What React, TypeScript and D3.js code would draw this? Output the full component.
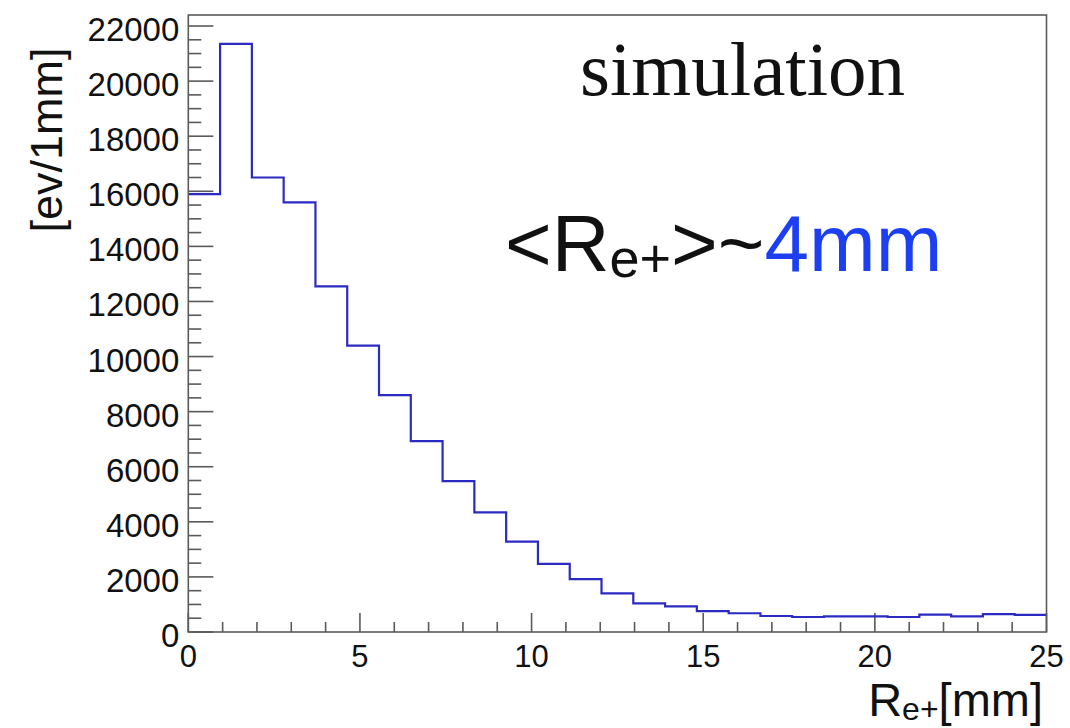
import React from 'react'
import * as d3 from 'd3'

// counts per bin, 27 bins over 0..25 mm
const counts = [
  15900, 21350, 16500, 15600, 12550, 10400, 8600, 6930, 5480, 4340, 3280, 2470,
  1920, 1400, 1040, 930, 760, 680, 580, 545, 570, 570, 545, 630, 570, 650, 620,
]
const xRange = [0, 25]
const xMajor = [0, 5, 10, 15, 20, 25]
const yMajor = [0, 2000, 4000, 6000, 8000, 10000, 12000, 14000, 16000, 18000, 20000, 22000]

const W = 1070
const H = 728
const left = 188.3
const right = 1046.5
const top = 15
const bottom = 632

const axisColor = '#5a5a5a'
const histColor = '#2b2bc4'
const blue = '#1c3ff2'
const sans = '"Liberation Sans", Arial, Helvetica, sans-serif'
const serif = '"Liberation Serif", "Times New Roman", serif'

export default function App() {
  const x = d3.scaleLinear().domain(xRange).range([left, right])
  const y = d3.scaleLinear().domain([0, 22400]).range([bottom, top])

  const binW = (xRange[1] - xRange[0]) / counts.length
  const pts: [number, number][] = counts.map((c, i) => [xRange[0] + i * binW, c])
  pts.push([xRange[1], counts[counts.length - 1]])

  const line = d3
    .line<[number, number]>()
    .x((d) => x(d[0]))
    .y((d) => y(d[1]))
    .curve(d3.curveStepAfter)

  const xMinor = d3.range(0, 26, 1).filter((v) => v % 5 !== 0)
  const yMinor = d3.range(0, 22401, 500).filter((v) => v % 2000 !== 0)

  return (
    <svg
      width={W}
      height={H}
      style={{position: 'absolute', left: 0, top: 0, background: '#fff'}}
    >
      {/* ticks */}
      <g stroke={axisColor} strokeWidth={1.6}>
        {yMajor.map((v) => (
          <line key={'ym' + v} x1={left} x2={left + 25} y1={y(v)} y2={y(v)} />
        ))}
        {yMinor.map((v) => (
          <line key={'yn' + v} x1={left} x2={left + 13} y1={y(v)} y2={y(v)} />
        ))}
        {xMajor.map((v) => (
          <line key={'xm' + v} x1={x(v)} x2={x(v)} y1={bottom} y2={bottom - 19} />
        ))}
        {xMinor.map((v) => (
          <line key={'xn' + v} x1={x(v)} x2={x(v)} y1={bottom} y2={bottom - 10} />
        ))}
      </g>

      <path d={line(pts) || ''} fill="none" stroke={histColor} strokeWidth={2.2} />

      <rect
        x={left}
        y={top}
        width={right - left}
        height={bottom - top}
        fill="none"
        stroke={axisColor}
        strokeWidth={1.6}
      />

      {/* tick labels */}
      <g fontFamily={sans} fill="#111">
        {yMajor.map((v) => (
          <text key={'yl' + v} x={left - 9} y={y(v) + 15} textAnchor="end" fontSize={33}>
            {v}
          </text>
        ))}
        {xMajor.map((v) => (
          <text key={'xl' + v} x={x(v)} y={667} textAnchor="middle" fontSize={31}>
            {v}
          </text>
        ))}
      </g>

      {/* axis titles */}
      <text
        fontFamily={sans}
        fontSize={45}
        fill="#111"
        textAnchor="middle"
        transform="translate(62,140) rotate(-90)"
      >
        [ev/1mm]
      </text>
      <text fontFamily={sans} fontSize={47} fill="#111" textAnchor="end" x={1043} y={716}>
        R<tspan fontSize={32} dy={4}>e+</tspan>
        <tspan dy={-4}>[mm]</tspan>
      </text>

      {/* annotations */}
      <text fontFamily={serif} fontSize={77} fill="#111" x={580} y={95}>
        simulation
      </text>
      <text fontFamily={sans} fontSize={80} fill="#111" x={505} y={271}>
        {'<R'}
        <tspan fontSize={54} dy={6}>e+</tspan>
        <tspan dy={-6}>{'>~'}</tspan>
        <tspan fill={blue}>4mm</tspan>
      </text>
    </svg>
  )
}
